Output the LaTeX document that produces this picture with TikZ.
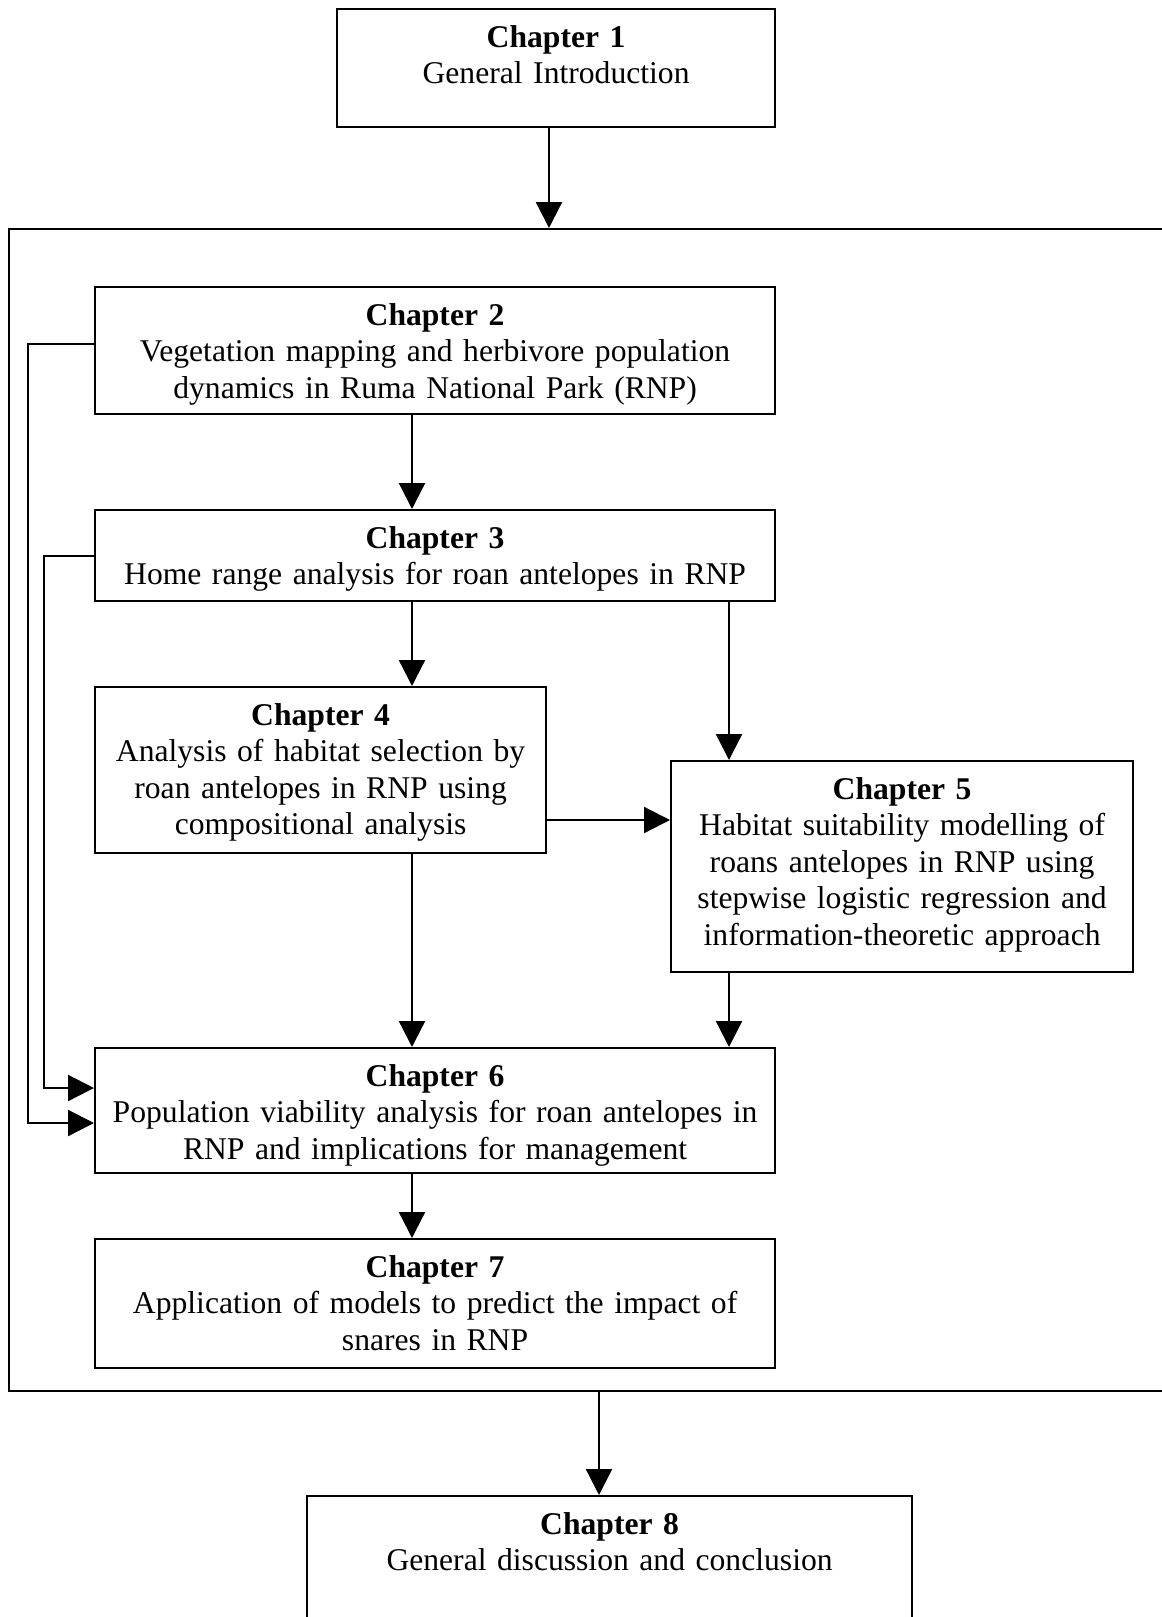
\documentclass[tikz,border=0pt]{standalone}
\usepackage{fontspec}
\setmainfont{Liberation Serif}
\usetikzlibrary{arrows.meta}

\tikzset{
    chapbox/.style={draw, line width=1.3pt, fill=white, anchor=north west,
        inner sep=0pt, align=center, text height=0.76cm,
        font=\fontsize{18}{20.8}\selectfont},
    panel/.style={draw, line width=1.3pt, anchor=north west, inner sep=0pt},
    flow/.style={-{Triangle[length=0.52cm,width=0.52cm]}, line width=1.3pt},
}

\begin{document}
\begin{tikzpicture}[x=0.02cm, y=-0.02cm]
            \def \xtop   {549}
            \def \xspine {412}
            \def \xside  {729}
            \def \xdrop  {599}
            \def \xouter {28}
            \def \xinner {44}
            \def \ycross {820}
            \def \youter {1123}
            \def \yinner {1088}

            \useasboundingbox (0,0) rectangle (1162,1617);

            \coordinate (top)   at (\xtop, 0);
            \coordinate (spine) at (\xspine, 0);
            \coordinate (side)  at (\xside, 0);
            \coordinate (drop)  at (\xdrop, 0);
            \coordinate (cross) at (0, \ycross);
            \coordinate (outer) at (\xouter, \youter);
            \coordinate (inner) at (\xinner, \yinner);

% outer frame around chapters 2--7
            \node [panel, minimum width=23.44cm, minimum height=23.24cm] (frame) at (8,228) {};

% chapters
            \node [chapbox, text width=8.76cm, text depth=1.6cm] (ch1) at (336,8)
                {\textbf{Chapter 1}\\General Introduction};
            \node [chapbox, text width=13.6cm, text depth=1.78cm] (ch2) at (94,286)
                {\textbf{Chapter 2}\\Vegetation mapping and herbivore population\\dynamics in Ruma National Park (RNP)};
            \node [chapbox, text width=13.6cm, text depth=1.06cm] (ch3) at (94,509)
                {\textbf{Chapter 3}\\Home range analysis for roan antelopes in RNP};
            \node [chapbox, text width=9.02cm, text depth=2.56cm] (ch4) at (94,686)
                {\textbf{Chapter 4}\\Analysis of habitat selection by\\roan antelopes in RNP using\\compositional analysis};
            \node [chapbox, text width=9.24cm, text depth=3.46cm] (ch5) at (670,760)
                {\textbf{Chapter 5}\\Habitat suitability modelling of\\roans antelopes in RNP using\\stepwise logistic regression and\\information-theoretic approach};
            \node [chapbox, text width=13.6cm, text depth=1.74cm] (ch6) at (94,1047)
                {\textbf{Chapter 6}\\Population viability analysis for roan antelopes in\\RNP and implications for management};
            \node [chapbox, text width=13.6cm, text depth=1.82cm] (ch7) at (94,1238)
                {\textbf{Chapter 7}\\Application of models to predict the impact of\\snares in RNP};
            \node [chapbox, text width=12.1cm, text depth=2.14cm] (ch8) at (306,1495)
                {\textbf{Chapter 8}\\General discussion and conclusion};

% arrows
            \draw [flow] (ch1.south -| top) -- (frame.north -| top);
            \draw [flow] (ch2.south -| spine) -- (ch3.north -| spine);
            \draw [flow] (ch3.south -| spine) -- (ch4.north -| spine);
            \draw [flow] (ch3.south -| side) -- (ch5.north -| side);
            \draw [flow] (ch4.east |- cross) -- (ch5.west |- cross);
            \draw [flow] (ch4.south -| spine) -- (ch6.north -| spine);
            \draw [flow] (ch5.south -| side) -- (ch6.north -| side);
            \draw [flow] (ch6.south -| spine) -- (ch7.north -| spine);
            \draw [flow] (frame.south -| drop) -- (ch8.north -| drop);
            \draw [flow] ([yshift=0.13cm]ch2.west) -| (outer) -- (ch6.west |- outer);
            \draw [flow] (ch3.west) -| (inner) -- (ch6.west |- inner);
\end{tikzpicture}
\end{document}
